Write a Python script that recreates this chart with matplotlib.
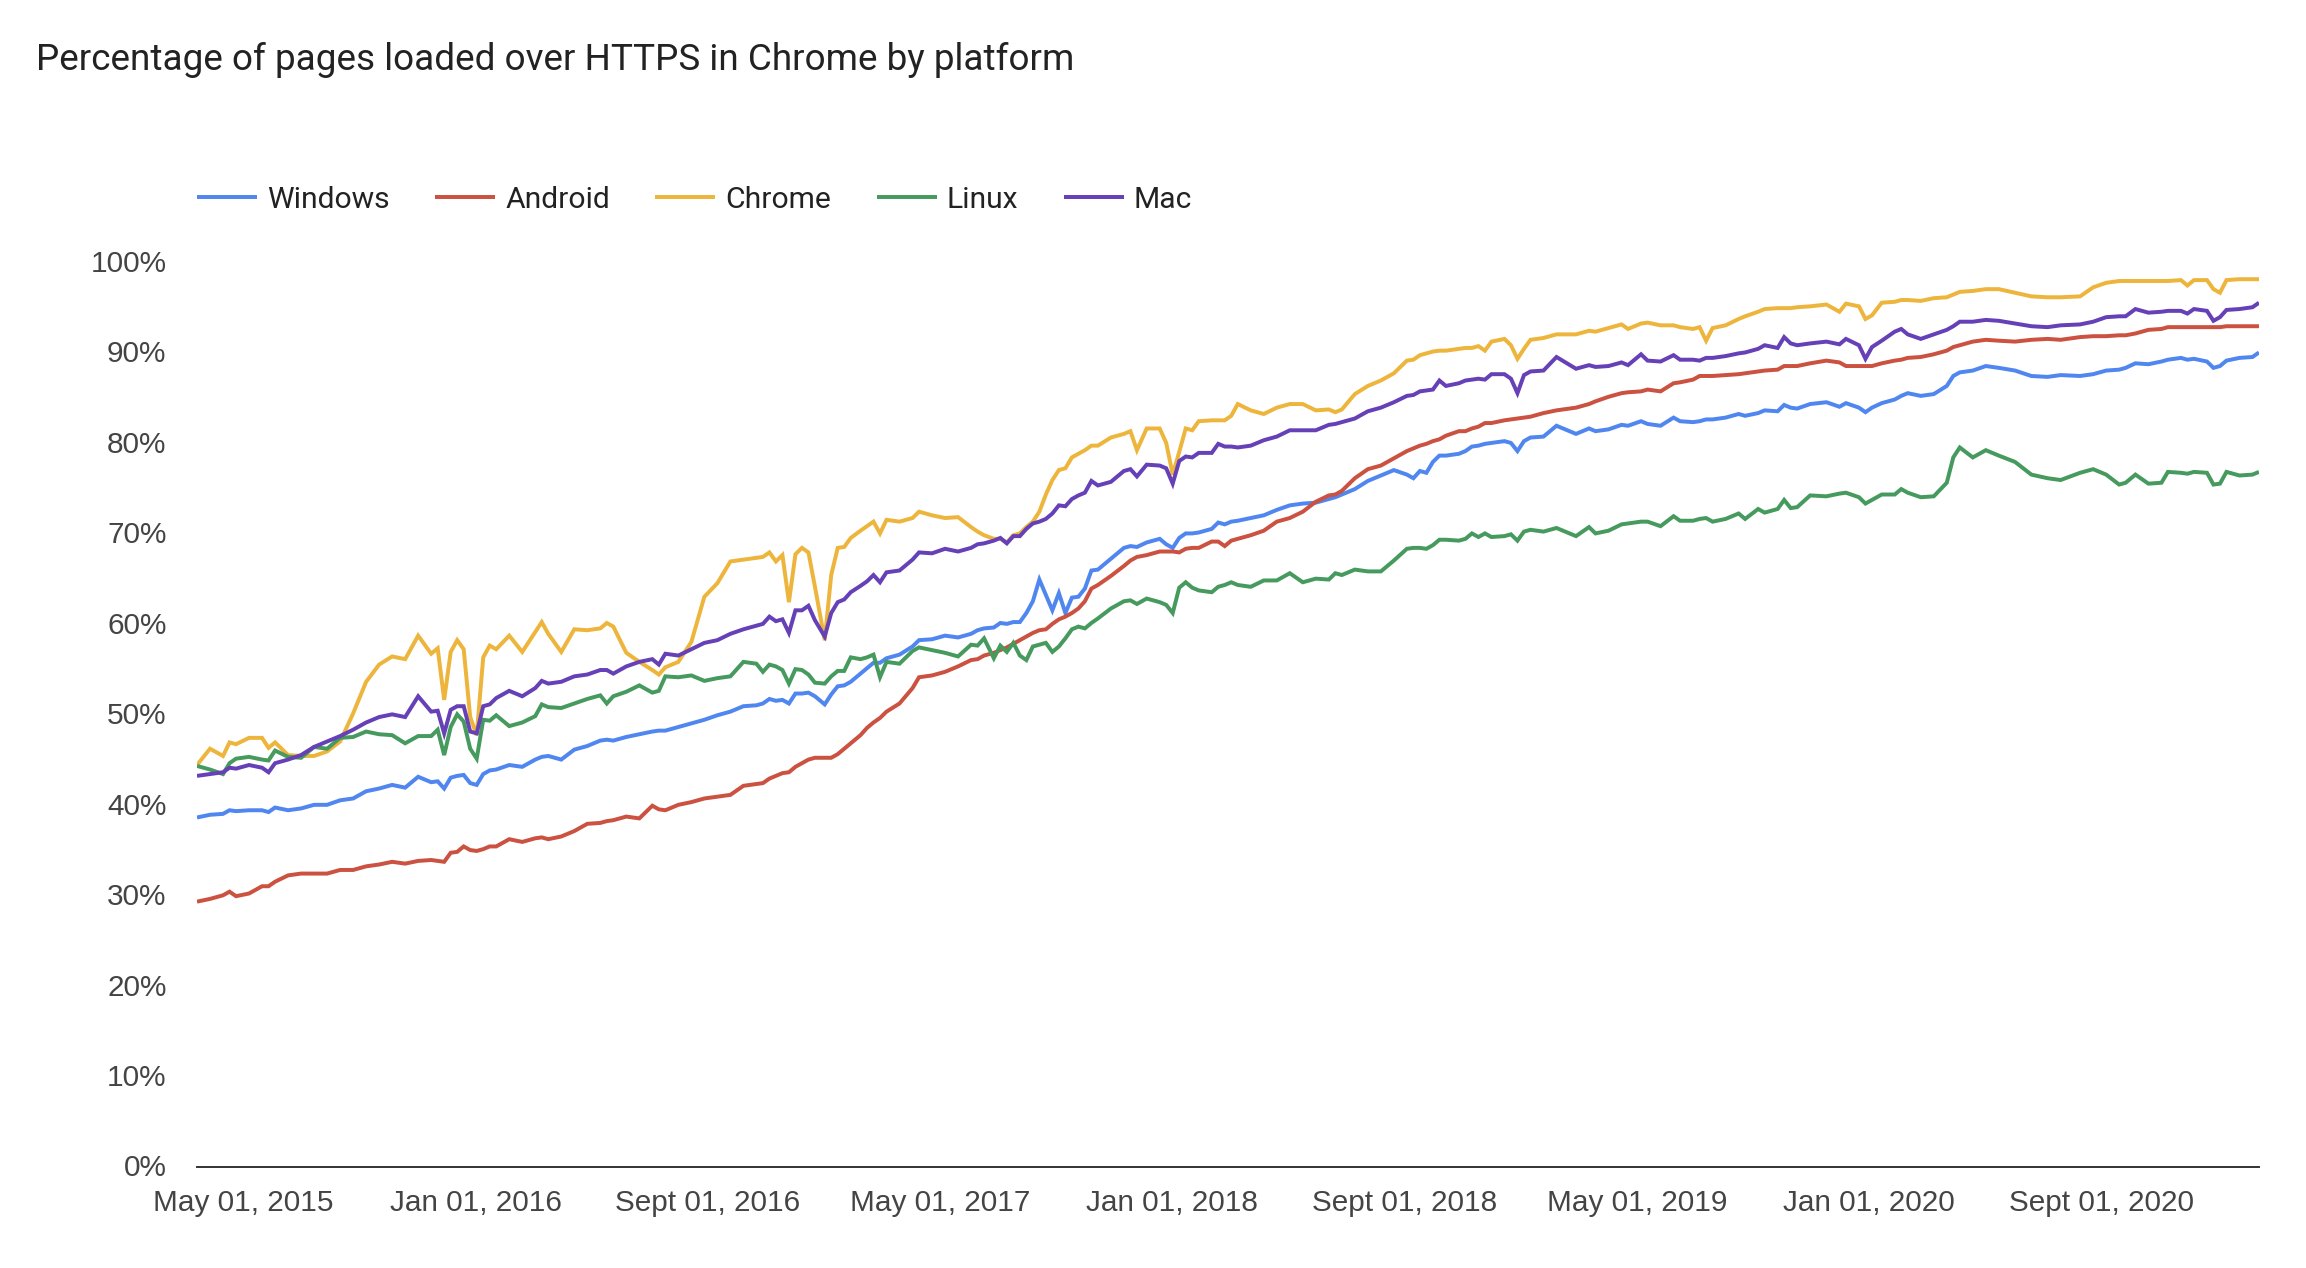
import numpy as np
import matplotlib
matplotlib.use('Agg')
import matplotlib.pyplot as plt
from matplotlib.transforms import ScaledTranslation

# x position of each reading, in weeks since the start of the chart
weeks = [0, 2, 4, 5, 6, 8, 10, 11, 12, 14, 16, 18, 20, 22, 24, 26, 28, 30, 32, 34, 36, 37, 38, 39, 40, 41, 42, 43, 44, 45, 46, 48, 50, 52, 53, 54, 56, 58, 60, 62, 63, 64, 66, 68, 70, 71, 72, 74, 76,
         78, 80, 82, 84, 86, 87, 88, 89, 90, 91, 92, 93, 94, 95, 96.5, 97.5, 98.5, 99.5, 100.5, 102, 103, 104, 105, 106, 108, 110, 111, 113, 115, 117, 119, 120, 121, 122.5, 123.5, 124.5, 125.5, 126.5, 127.5, 128.5, 129.5, 130.5, 131.5, 132.5, 133.5, 134.5, 135.5, 136.5, 137.5, 138.5, 140.5, 142.5, 143.5, 144.5, 146, 148, 149, 150, 151, 152, 153, 154,
         156, 157, 158, 159, 160, 162, 164, 166, 168, 170, 172, 174, 175, 176, 178, 180, 182, 184, 186, 187, 188, 189, 190, 191, 192, 194, 195, 196, 197, 198, 199, 201, 202, 203, 204, 205, 207, 209, 212, 214, 215, 217, 219, 220, 222, 223, 225, 227, 228, 230, 231, 232, 233, 235, 237,
         238, 240, 241, 243, 244, 245, 246, 248, 250.5, 252.5, 253.5, 255.5, 256.5, 257.5, 259, 261, 262, 263, 265, 267, 269, 270, 271, 273, 275, 277, 279.5, 282, 284.5, 286.5, 289.5, 291.5, 293.5, 295.5, 296.5, 298, 300, 302, 303, 305, 306, 307, 309, 310, 311, 312, 314, 316, 317]

windows = [38.6, 38.9, 39.0, 39.4, 39.3, 39.4, 39.4, 39.2, 39.7, 39.4, 39.6, 40.0, 40.0, 40.5, 40.7, 41.5, 41.8, 42.2, 41.9, 43.1, 42.5, 42.6, 41.8, 43.0, 43.2, 43.3, 42.4, 42.2, 43.4, 43.8, 43.9, 44.4, 44.2, 45.0, 45.3, 45.4, 45.0, 46.1, 46.5, 47.1, 47.2, 47.1, 47.5, 47.8, 48.1, 48.2, 48.2, 48.6, 49.0,
           49.4, 49.9, 50.3, 50.9, 51.0, 51.2, 51.7, 51.5, 51.6, 51.2, 52.3, 52.3, 52.4, 52.0, 51.1, 52.2, 53.1, 53.2, 53.6, 54.5, 55.1, 55.7, 55.7, 56.2, 56.6, 57.5, 58.2, 58.3, 58.7, 58.5, 58.9, 59.3, 59.5, 59.6, 60.1, 60.0, 60.2, 60.2, 61.2, 62.5, 64.9, 63.2, 61.5, 63.4, 61.2, 62.9, 63.0, 63.9, 65.9, 66.0, 67.2, 68.4, 68.6, 68.5, 69.0, 69.4, 68.8, 68.4, 69.5, 70.0, 70.0, 70.1,
           70.5, 71.2, 71.0, 71.3, 71.4, 71.7, 72.0, 72.6, 73.1, 73.3, 73.4, 73.8, 74.0, 74.3, 74.9, 75.8, 76.4, 77.0, 76.5, 76.1, 76.9, 76.7, 77.9, 78.6, 78.6, 78.8, 79.1, 79.6, 79.7, 79.9, 80.0, 80.2, 80.0, 79.1, 80.2, 80.6, 80.7, 81.9, 81.0, 81.6, 81.3, 81.5, 82.0, 81.9, 82.4, 82.1, 81.9, 82.8, 82.4, 82.3, 82.4, 82.6, 82.6, 82.8, 83.2,
           83.0, 83.3, 83.6, 83.5, 84.2, 83.9, 83.8, 84.3, 84.5, 84.0, 84.4, 83.9, 83.4, 83.9, 84.4, 84.8, 85.2, 85.5, 85.2, 85.4, 86.3, 87.4, 87.8, 88.0, 88.5, 88.3, 88.0, 87.4, 87.3, 87.5, 87.4, 87.6, 88.0, 88.1, 88.3, 88.8, 88.7, 89.0, 89.2, 89.4, 89.2, 89.3, 89.0, 88.3, 88.5, 89.1, 89.4, 89.5, 90.0]

android = [29.3, 29.6, 30.0, 30.4, 29.9, 30.2, 31.0, 31.0, 31.5, 32.2, 32.4, 32.4, 32.4, 32.8, 32.8, 33.2, 33.4, 33.7, 33.5, 33.8, 33.9, 33.8, 33.7, 34.7, 34.8, 35.4, 35.0, 34.9, 35.1, 35.4, 35.4, 36.2, 35.9, 36.3, 36.4, 36.2, 36.5, 37.1, 37.9, 38.0, 38.2, 38.3, 38.7, 38.5, 39.9, 39.5, 39.4, 40.0, 40.3,
           40.7, 40.9, 41.1, 42.1, 42.3, 42.4, 42.9, 43.2, 43.5, 43.6, 44.2, 44.6, 45.0, 45.2, 45.2, 45.2, 45.6, 46.2, 46.8, 47.7, 48.5, 49.1, 49.6, 50.3, 51.2, 52.9, 54.1, 54.3, 54.7, 55.3, 56.0, 56.1, 56.5, 56.8, 57.1, 57.4, 57.8, 58.2, 58.6, 59.0, 59.3, 59.4, 60.0, 60.5, 60.8, 61.2, 61.7, 62.5, 63.9, 64.3, 65.3, 66.4, 67.0, 67.4, 67.6, 68.0, 68.0, 68.0, 67.9, 68.3, 68.4, 68.4,
           69.1, 69.1, 68.6, 69.2, 69.4, 69.8, 70.3, 71.3, 71.7, 72.4, 73.5, 74.2, 74.3, 74.7, 76.1, 77.1, 77.5, 78.3, 79.1, 79.4, 79.7, 79.9, 80.2, 80.4, 80.8, 81.3, 81.3, 81.6, 81.8, 82.2, 82.2, 82.5, 82.6, 82.7, 82.8, 82.9, 83.3, 83.6, 83.9, 84.3, 84.6, 85.1, 85.5, 85.6, 85.7, 85.9, 85.7, 86.6, 86.7, 87.0, 87.4, 87.4, 87.4, 87.5, 87.6,
           87.7, 87.9, 88.0, 88.1, 88.5, 88.5, 88.5, 88.8, 89.1, 88.9, 88.5, 88.5, 88.5, 88.5, 88.8, 89.1, 89.2, 89.4, 89.5, 89.8, 90.2, 90.6, 90.8, 91.2, 91.4, 91.3, 91.2, 91.4, 91.5, 91.4, 91.7, 91.8, 91.8, 91.9, 91.9, 92.1, 92.5, 92.6, 92.8, 92.8, 92.8, 92.8, 92.8, 92.8, 92.8, 92.9, 92.9, 92.9, 92.9]

chrome = [44.4, 46.2, 45.4, 46.9, 46.7, 47.4, 47.4, 46.3, 46.9, 45.5, 45.4, 45.4, 45.9, 47.0, 50.1, 53.6, 55.5, 56.4, 56.1, 58.7, 56.7, 57.3, 51.6, 56.9, 58.2, 57.2, 49.7, 47.7, 56.3, 57.6, 57.2, 58.7, 56.9, 59.1, 60.2, 58.9, 56.9, 59.4, 59.3, 59.5, 60.1, 59.7, 56.8, 55.8, 54.9, 54.4, 55.2, 55.8, 58.0,
          63.0, 64.5, 66.9, 67.1, 67.3, 67.4, 67.9, 66.9, 67.6, 62.4, 67.7, 68.4, 67.9, 64.1, 58.2, 65.4, 68.4, 68.5, 69.5, 70.3, 70.8, 71.3, 70.0, 71.5, 71.3, 71.7, 72.4, 72.0, 71.7, 71.8, 70.7, 70.2, 69.8, 69.4, 69.4, 69.0, 69.8, 70.0, 70.7, 71.3, 72.4, 74.3, 75.9, 77.0, 77.2, 78.4, 78.8, 79.2, 79.7, 79.7, 80.6, 81.0, 81.3, 79.2, 81.6, 81.6, 80.0, 76.5, 79.0, 81.6, 81.4, 82.4,
          82.5, 82.5, 82.5, 83.0, 84.3, 83.6, 83.2, 83.9, 84.3, 84.3, 83.6, 83.7, 83.4, 83.7, 85.4, 86.3, 86.9, 87.7, 89.1, 89.2, 89.7, 89.9, 90.1, 90.2, 90.2, 90.4, 90.5, 90.5, 90.7, 90.2, 91.2, 91.5, 90.8, 89.3, 90.4, 91.4, 91.6, 92.0, 92.0, 92.4, 92.3, 92.7, 93.1, 92.6, 93.2, 93.3, 93.0, 93.0, 92.8, 92.6, 92.8, 91.3, 92.7, 93.0, 93.7,
          94.0, 94.5, 94.8, 94.9, 94.9, 94.9, 95.0, 95.1, 95.3, 94.5, 95.4, 95.1, 93.7, 94.1, 95.5, 95.6, 95.8, 95.8, 95.7, 96.0, 96.1, 96.4, 96.7, 96.8, 97.0, 97.0, 96.6, 96.2, 96.1, 96.1, 96.2, 97.2, 97.7, 97.9, 97.9, 97.9, 97.9, 97.9, 97.9, 98.0, 97.4, 98.0, 98.0, 97.0, 96.6, 98.0, 98.1, 98.1, 98.1]

linux = [44.3, 43.9, 43.4, 44.6, 45.1, 45.3, 45.0, 44.9, 46.0, 45.3, 45.2, 46.4, 46.2, 47.4, 47.5, 48.1, 47.8, 47.7, 46.8, 47.6, 47.6, 48.3, 45.5, 48.6, 50.0, 49.2, 46.2, 45.1, 49.4, 49.3, 49.9, 48.7, 49.1, 49.8, 51.1, 50.8, 50.7, 51.2, 51.7, 52.1, 51.2, 52.0, 52.5, 53.2, 52.4, 52.6, 54.2, 54.1, 54.3,
         53.7, 54.0, 54.2, 55.8, 55.6, 54.7, 55.5, 55.3, 54.9, 53.4, 55.0, 54.9, 54.4, 53.5, 53.4, 54.2, 54.8, 54.8, 56.3, 56.1, 56.3, 56.6, 54.1, 55.8, 55.6, 57.0, 57.4, 57.1, 56.8, 56.4, 57.7, 57.6, 58.4, 56.2, 57.6, 56.9, 57.9, 56.5, 56.0, 57.5, 57.7, 57.9, 56.9, 57.5, 58.4, 59.4, 59.7, 59.5, 60.1, 60.6, 61.7, 62.5, 62.6, 62.2, 62.8, 62.4, 62.1, 61.2, 64.0, 64.6, 64.0, 63.7,
         63.5, 64.1, 64.3, 64.6, 64.3, 64.1, 64.8, 64.8, 65.6, 64.6, 65.0, 64.9, 65.6, 65.4, 66.0, 65.8, 65.8, 67.0, 68.3, 68.4, 68.4, 68.3, 68.7, 69.3, 69.3, 69.2, 69.4, 70.0, 69.6, 70.0, 69.6, 69.7, 69.9, 69.2, 70.2, 70.4, 70.2, 70.6, 69.7, 70.7, 70.0, 70.3, 71.0, 71.1, 71.3, 71.3, 70.8, 71.9, 71.4, 71.4, 71.6, 71.7, 71.3, 71.6, 72.2,
         71.6, 72.7, 72.3, 72.7, 73.7, 72.8, 72.9, 74.2, 74.1, 74.4, 74.5, 74.0, 73.3, 73.7, 74.3, 74.3, 74.9, 74.5, 74.0, 74.1, 75.6, 78.4, 79.5, 78.4, 79.2, 78.6, 77.9, 76.5, 76.1, 75.9, 76.7, 77.1, 76.5, 75.4, 75.6, 76.5, 75.5, 75.6, 76.8, 76.7, 76.6, 76.8, 76.7, 75.4, 75.5, 76.8, 76.4, 76.5, 76.8]

mac = [43.2, 43.4, 43.6, 44.1, 44.0, 44.4, 44.1, 43.6, 44.6, 45.0, 45.5, 46.4, 47.0, 47.6, 48.3, 49.1, 49.7, 50.0, 49.7, 52.0, 50.3, 50.4, 47.9, 50.5, 50.9, 50.9, 48.1, 47.9, 50.9, 51.1, 51.8, 52.6, 52.0, 52.9, 53.7, 53.4, 53.6, 54.2, 54.4, 54.9, 54.9, 54.5, 55.3, 55.8, 56.1, 55.5, 56.7, 56.5, 57.2,
       57.9, 58.2, 58.9, 59.4, 59.8, 60.0, 60.8, 60.3, 60.5, 59.0, 61.5, 61.5, 62.0, 60.4, 58.6, 61.2, 62.4, 62.7, 63.5, 64.2, 64.7, 65.4, 64.6, 65.7, 65.9, 67.1, 67.9, 67.8, 68.3, 68.0, 68.4, 68.8, 68.9, 69.2, 69.5, 68.9, 69.7, 69.7, 70.5, 71.1, 71.3, 71.6, 72.2, 73.1, 73.0, 73.8, 74.2, 74.5, 75.8, 75.3, 75.7, 76.9, 77.1, 76.3, 77.6, 77.5, 77.2, 75.5, 78.0, 78.5, 78.4, 78.9,
       78.9, 79.9, 79.6, 79.6, 79.5, 79.7, 80.3, 80.7, 81.4, 81.4, 81.4, 82.0, 82.1, 82.3, 82.7, 83.5, 83.9, 84.5, 85.2, 85.3, 85.7, 85.8, 85.9, 86.9, 86.3, 86.6, 86.9, 87.0, 87.1, 87.0, 87.6, 87.6, 87.1, 85.5, 87.5, 87.9, 88.0, 89.5, 88.2, 88.6, 88.4, 88.5, 88.9, 88.6, 89.8, 89.1, 89.0, 89.7, 89.2, 89.2, 89.1, 89.4, 89.4, 89.6, 89.9,
       90.0, 90.4, 90.8, 90.5, 91.7, 91.0, 90.8, 91.0, 91.2, 90.9, 91.5, 90.8, 89.3, 90.6, 91.3, 92.3, 92.6, 92.0, 91.5, 92.0, 92.5, 92.9, 93.4, 93.4, 93.6, 93.5, 93.2, 92.9, 92.8, 93.0, 93.1, 93.4, 93.9, 94.0, 94.0, 94.8, 94.4, 94.5, 94.6, 94.6, 94.3, 94.8, 94.6, 93.5, 93.9, 94.7, 94.8, 95.0, 95.5]

series_names = ['Windows', 'Android', 'Chrome', 'Linux', 'Mac']
series_colors = ['#5086EF', '#CB5140', '#EDB53C', '#469A5E', '#6640B7']
date_labels = ['May 01, 2015', 'Jan 01, 2016', 'Sept 01, 2016', 'May 01, 2017', 'Jan 01, 2018',
               'Sept 01, 2018', 'May 01, 2019', 'Jan 01, 2020', 'Sept 01, 2020']
pct_ticks = list(range(0, 101, 10))

W, H = 2306, 1268
fig = plt.figure(figsize=(W / 100, H / 100), dpi=100)
ax = fig.add_axes([197 / W, (H - 1166.7) / H, (2259 - 197) / W, (1166.7 - 262) / H])

all_series = [windows, android, chrome, linux, mac]
for vals, name, col in zip(all_series, series_names, series_colors):
    ax.plot(weeks, vals, color=col, lw=2.85, label=name, solid_joinstyle='miter', solid_capstyle='butt')

ax.set_xlim(0, 317)
ax.set_ylim(0, 100)

for s in ['top', 'left', 'right']:
    ax.spines[s].set_visible(False)
ax.spines['bottom'].set_color('#333333')
ax.spines['bottom'].set_linewidth(1.4)

ax.set_yticks(pct_ticks)
ax.set_yticklabels([str(p) + '%' for p in pct_ticks], family='Liberation Sans', fontsize=21.4, color='#444444')
ax.set_xticks(7.1 + 35.71 * np.arange(len(date_labels)))
ax.set_xticklabels(date_labels, family='Liberation Sans', fontsize=21.4, color='#444444')
ax.tick_params(axis='y', length=0, pad=22)
ax.tick_params(axis='x', length=0, pad=16)

# nudge the y labels up a touch
nudge = ScaledTranslation(0, 1.2 / 100, fig.dpi_scale_trans)
for lab in ax.get_yticklabels():
    lab.set_transform(lab.get_transform() + nudge)

fig.text(36 / W, 1 - 60 / H, 'Percentage of pages loaded over HTTPS in Chrome by platform',
         family='Roboto', fontsize=26.6, color='#222222', ha='left', va='center')

ax.legend(loc='lower left', bbox_to_anchor=(197 / W, 1 - 213.5 / H), bbox_transform=fig.transFigure,
          ncol=5, frameon=False, borderpad=0, borderaxespad=0, handlelength=2.0, handletextpad=0.33,
          columnspacing=1.52, prop={'family': 'Roboto', 'size': 21.6}, labelcolor='#222222')

fig.savefig('out.png', dpi=100)
